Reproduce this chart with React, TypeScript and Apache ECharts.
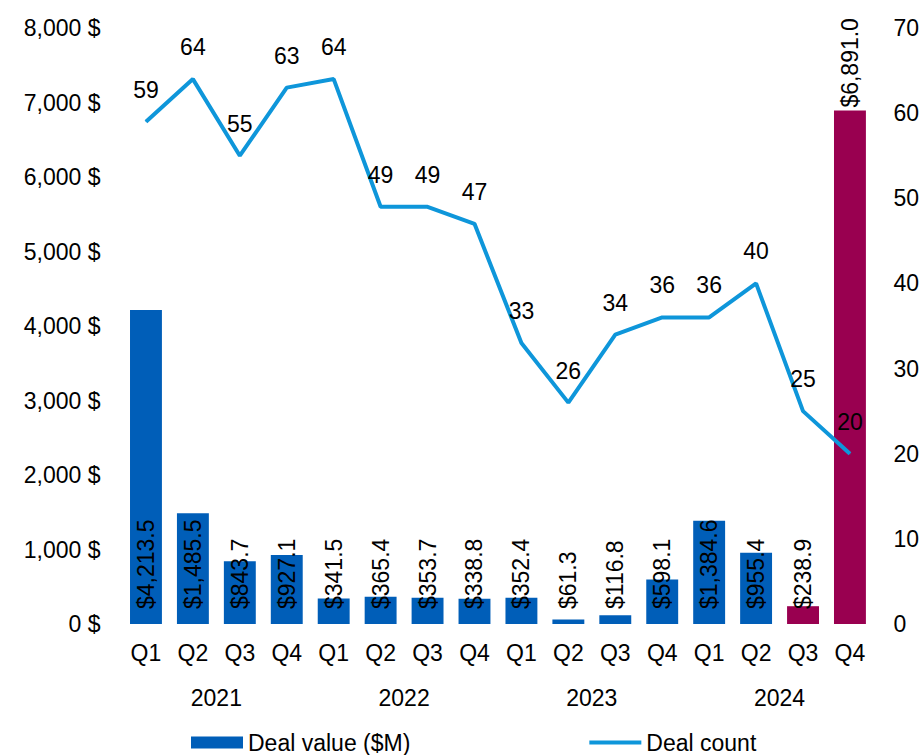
import React, { useEffect, useRef } from "react";
import * as echarts from "echarts";

const quarters = ["Q1", "Q2", "Q3", "Q4", "Q1", "Q2", "Q3", "Q4", "Q1", "Q2", "Q3", "Q4", "Q1", "Q2", "Q3", "Q4"];
const years = ["2021", "2022", "2023", "2024"];
const dealValue = [4213.5, 1485.5, 843.7, 927.1, 341.5, 365.4, 353.7, 338.8, 352.4, 61.3, 116.8, 598.1, 1384.6, 955.4, 238.9, 6891.0];
const dealCount = [59, 64, 55, 63, 64, 49, 49, 47, 33, 26, 34, 36, 36, 40, 25, 20];
const highlightedQuarters = [14, 15];

const FONT = "Liberation Sans, Arial, sans-serif";
const FS = 23;
const BLUE = "#005EB8";
const MAROON = "#990050";
const LINE = "#0E96DA";

export default function App() {
  const ref = useRef<HTMLDivElement>(null);
  useEffect(() => {
    if (!ref.current) return;
    const chart = echarts.init(ref.current, null, { renderer: "svg" });
    const fmtMoney = (v: number) =>
      "$" + v.toLocaleString("en-US", { minimumFractionDigits: 1, maximumFractionDigits: 1 });
    const last = dealValue.length - 1;
    const barData = dealValue.map((v, i) => ({
      value: v,
      itemStyle: { color: highlightedQuarters.includes(i) ? MAROON : BLUE },
      label:
        i === last
          ? { position: "top", distance: 3, rotate: 90, align: "left", verticalAlign: "middle" }
          : undefined,
    }));
    chart.setOption({
      animation: false,
      textStyle: { fontFamily: FONT },
      grid: { left: 122.5, right: 48.5, top: 28, bottom: 131, containLabel: false },
      legend: {
        left: 191,
        top: 731,
        padding: 0,
        itemWidth: 52,
        itemHeight: 12,
        itemGap: 177,
        textStyle: { fontSize: FS, lineHeight: FS, color: "#000", fontFamily: FONT },
        data: [
          { name: "Deal value ($M)", icon: "rect" },
          { name: "Deal count", itemStyle: { opacity: 0 }, lineStyle: { width: 4 } },
        ],
      },
      xAxis: [
        {
          type: "category",
          data: quarters,
          axisLine: { show: false },
          axisTick: { show: false },
          axisLabel: { fontSize: FS, color: "#000", margin: 17, fontFamily: FONT, interval: 0 },
        },
        {
          type: "category",
          data: years,
          position: "bottom",
          axisLine: { show: false },
          axisTick: { show: false },
          axisLabel: { fontSize: FS, color: "#000", margin: 62, fontFamily: FONT, interval: 0 },
        },
      ],
      yAxis: [
        {
          type: "value",
          min: 0,
          max: 8000,
          interval: 1000,
          splitLine: { show: false },
          axisLine: { show: false },
          axisTick: { show: false },
          axisLabel: {
            fontSize: FS,
            color: "#000",
            margin: 22,
            fontFamily: FONT,
            formatter: (v: number) => v.toLocaleString("en-US") + " $",
          },
        },
        {
          type: "value",
          min: 0,
          max: 70,
          interval: 10,
          splitLine: { show: false },
          axisLine: { show: false },
          axisTick: { show: false },
          axisLabel: { fontSize: FS, color: "#000", margin: 20, fontFamily: FONT },
        },
      ],
      series: [
        {
          name: "Deal value ($M)",
          type: "bar",
          xAxisIndex: 0,
          yAxisIndex: 0,
          barCategoryGap: "32%",
          itemStyle: { color: BLUE },
          data: barData,
          label: {
            show: true,
            position: "insideBottom",
            distance: 15,
            rotate: 90,
            align: "left",
            verticalAlign: "middle",
            fontSize: FS,
            color: "#000",
            fontFamily: FONT,
            formatter: (p: any) => fmtMoney(p.value),
          },
        },
        {
          name: "Deal count",
          type: "line",
          xAxisIndex: 0,
          yAxisIndex: 1,
          data: dealCount,
          symbol: "circle",
          symbolSize: 1,
          showSymbol: true,
          lineStyle: { color: LINE, width: 4 },
          itemStyle: { color: LINE },
          label: {
            show: true,
            position: "top",
            distance: 20,
            fontSize: FS,
            color: "#000",
            fontFamily: FONT,
          },
          z: 5,
        },
      ],
    });
    return () => chart.dispose();
  }, []);
  return <div ref={ref} style={{ width: 922, height: 755, position: "absolute", left: 0, top: 0 }} />;
}
